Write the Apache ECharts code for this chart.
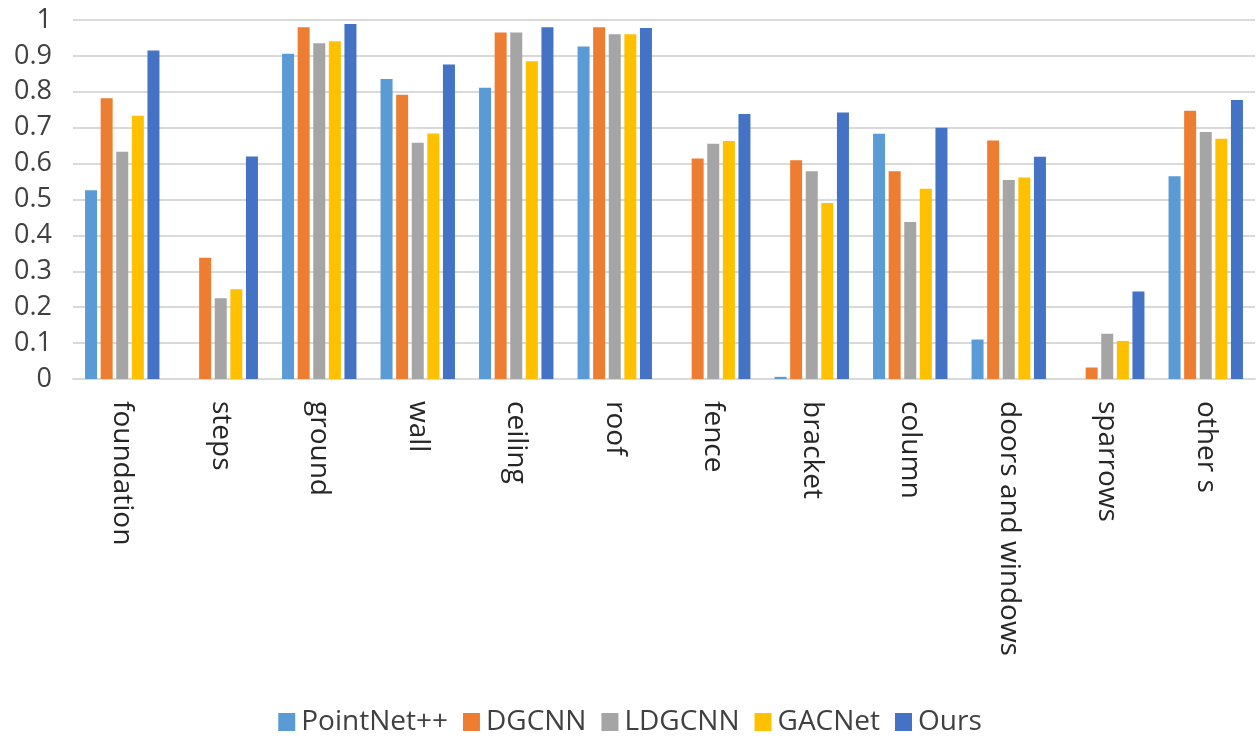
<!DOCTYPE html>
<html>
<head>
<meta charset="utf-8">
<script src="https://cdn.jsdelivr.net/npm/echarts@6/dist/echarts.min.js"></script>
<style>
  html, body { margin: 0; padding: 0; background: #fff; }
  #chart { width: 1260px; height: 740px; }
</style>
</head>
<body>
<div id="chart"></div>
<script>
// Per-class scores for each method
const categories = ['foundation', 'steps', 'ground', 'wall', 'ceiling', 'roof',
  'fence', 'bracket', 'column', 'doors and windows', 'sparrows', 'other s'];
const methods = ['PointNet++', 'DGCNN', 'LDGCNN', 'GACNet', 'Ours'];
const pointNetPP = [0.526, 0, 0.906, 0.836, 0.811, 0.926, 0, 0.006, 0.683, 0.110, 0, 0.565];
const dgcnn      = [0.782, 0.338, 0.980, 0.792, 0.965, 0.980, 0.614, 0.609, 0.579, 0.664, 0.032, 0.747];
const ldgcnn     = [0.633, 0.225, 0.935, 0.658, 0.965, 0.960, 0.655, 0.579, 0.437, 0.554, 0.126, 0.688];
const gacnet     = [0.733, 0.250, 0.941, 0.684, 0.885, 0.960, 0.663, 0.490, 0.530, 0.561, 0.106, 0.669];
const ours       = [0.915, 0.620, 0.989, 0.876, 0.980, 0.978, 0.738, 0.742, 0.700, 0.619, 0.244, 0.777];
const yTicks = [0, 0.1, 0.2, 0.3, 0.4, 0.5, 0.6, 0.7, 0.8, 0.9, 1];

const colors = ['#5B9BD5', '#ED7D31', '#A5A5A5', '#FFC000', '#4472C4'];
const seriesValues = [pointNetPP, dgcnn, ldgcnn, gacnet, ours];
const FONT = 'Open Sans';

const chart = echarts.init(document.getElementById('chart'), null, { renderer: 'canvas' });
chart.setOption({
  animation: false,
  color: colors,
  grid: { left: 73, right: 5, top: 20, bottom: 361, containLabel: false },
  legend: {
    data: methods,
    left: 'center',
    top: 703,
    itemWidth: 17,
    itemHeight: 18,
    itemGap: 15,
    icon: 'rect',
    textStyle: { fontFamily: FONT, fontSize: 28, color: '#404040', padding: [0, 0, 0, 1] }
  },
  xAxis: {
    type: 'category',
    data: categories,
    axisTick: { show: false },
    axisLine: { lineStyle: { color: '#d9d9d9', width: 2 } },
    axisLabel: {
      interval: 0,
      rotate: -90,
      margin: 22,
      fontFamily: FONT,
      fontSize: 28,
      color: '#262626'
    }
  },
  yAxis: {
    type: 'value',
    min: yTicks[0],
    max: yTicks[yTicks.length - 1],
    interval: 0.1,
    axisLine: { show: false },
    axisTick: { show: false },
    splitLine: { lineStyle: { color: '#d9d9d9', width: 2 } },
    axisLabel: {
      margin: 21,
      fontFamily: FONT,
      fontSize: 27,
      color: '#404040',
      formatter: v => String(Math.round(v * 10) / 10)
    }
  },
  series: methods.map((name, i) => ({
    name,
    type: 'bar',
    data: seriesValues[i],
    barWidth: 12,
    barGap: '30%',
    itemStyle: { color: colors[i] }
  }))
});
</script>
</body>
</html>
